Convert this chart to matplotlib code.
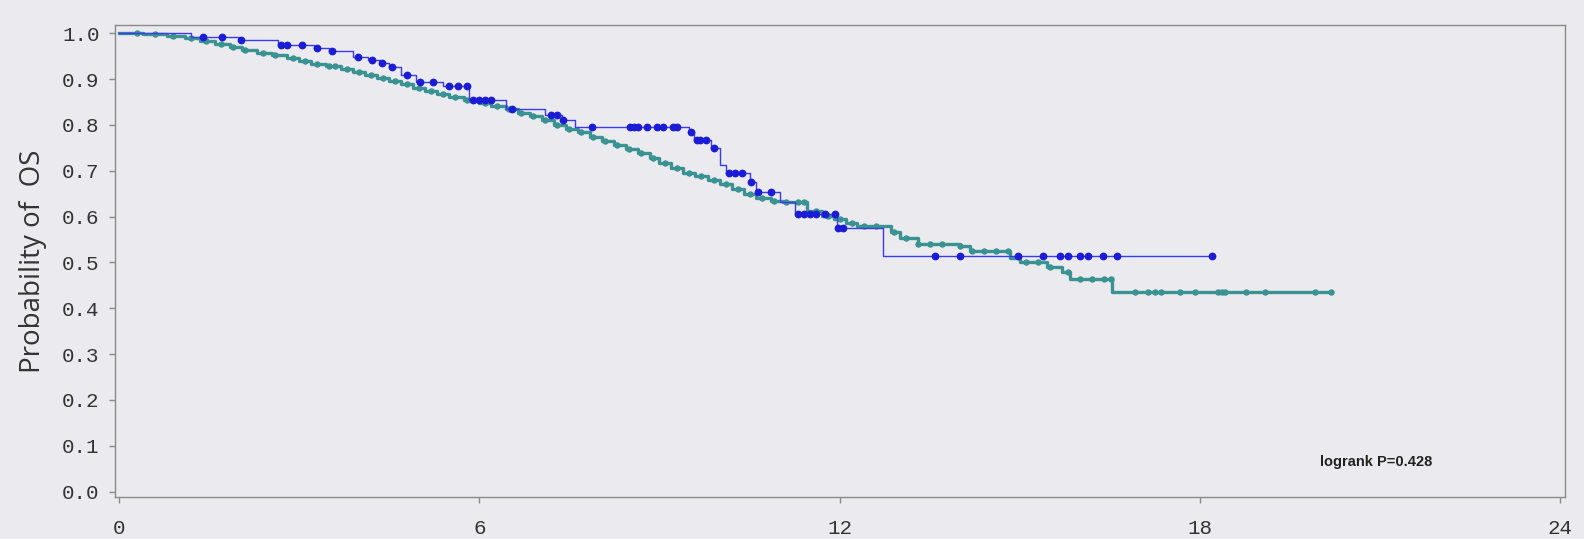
import numpy as np
import matplotlib
matplotlib.use("Agg")
import matplotlib.pyplot as plt

# ---- data ----
# Blue group: step times and survival level after each step
blue_t = [0, 1.2, 2.0, 2.65, 3.25, 3.5, 3.9, 4.15, 4.35, 4.5, 4.7, 4.95, 5.4, 5.83,
          6.45, 7.1, 7.38, 7.6, 9.5, 9.57, 9.85, 10.0, 10.1, 10.5, 10.6, 11.0,
          11.25, 11.95, 12.72]
blue_s = [1.0, 0.992, 0.985, 0.975, 0.968, 0.961, 0.949, 0.942, 0.935, 0.927, 0.909,
          0.894, 0.885, 0.854, 0.835, 0.822, 0.810, 0.796, 0.785, 0.767, 0.750, 0.713,
          0.696, 0.676, 0.654, 0.632, 0.606, 0.576, 0.513]
blue_end = 18.2
blue_cens = [1.40, 1.72, 2.03, 2.7, 2.8, 3.05, 3.3, 3.55, 3.98, 4.21, 4.38, 4.55, 4.8,
             5.01, 5.23, 5.5, 5.65, 5.8, 5.9, 6.0, 6.1, 6.2, 6.55, 7.2, 7.3, 7.4, 7.88,
             8.51, 8.58, 8.65, 8.79, 8.96, 9.06, 9.23, 9.3, 9.53, 9.62, 9.68, 9.78,
             9.9, 10.15, 10.25, 10.38, 10.53, 10.64, 10.85, 11.3, 11.4, 11.5, 11.6,
             11.75, 11.93, 11.98, 12.05, 13.59, 14.01, 14.97, 15.39, 15.67, 15.81,
             16.01, 16.14, 16.39, 16.62, 18.2]

# Teal group
teal_t = [0, 0.4, 0.8, 1.1, 1.35, 1.6, 1.85, 2.05, 2.3, 2.55, 2.8, 3.0, 3.2, 3.45,
          3.7, 3.9, 4.1, 4.3, 4.5, 4.7, 4.9, 5.1, 5.3, 5.5, 5.75, 6.0, 6.2, 6.45,
          6.65, 6.85, 7.05, 7.25, 7.45, 7.65, 7.85, 8.05, 8.25, 8.45, 8.65, 8.85,
          9.0, 9.2, 9.4, 9.6, 9.8, 10.0, 10.2, 10.4, 10.6, 10.85, 11.06, 11.46,
          11.7, 11.9, 12.1, 12.29, 12.85, 13.0, 13.3, 14.0, 14.17, 14.84, 15.0,
          15.45, 15.7, 15.84, 16.54]
teal_s = [1.000, 0.998, 0.994, 0.990, 0.983, 0.976, 0.970, 0.963, 0.958, 0.952, 0.946,
          0.940, 0.934, 0.928, 0.921, 0.915, 0.909, 0.902, 0.896, 0.889, 0.881, 0.874,
          0.867, 0.861, 0.854, 0.848, 0.842, 0.834, 0.827, 0.819, 0.810, 0.800, 0.792,
          0.784, 0.773, 0.765, 0.757, 0.748, 0.738, 0.727, 0.716, 0.705, 0.696, 0.688,
          0.680, 0.672, 0.661, 0.649, 0.640, 0.634, 0.632, 0.612, 0.602, 0.594, 0.586,
          0.580, 0.566, 0.553, 0.540, 0.535, 0.525, 0.510, 0.501, 0.491, 0.479, 0.463,
          0.436]
teal_end = 20.2
teal_cens = [0.3, 0.6, 0.9, 1.2, 1.45, 1.7, 1.9, 2.1, 2.4, 2.6, 2.9, 3.1, 3.3, 3.5,
             3.6, 3.8, 4.0, 4.2, 4.4, 4.6, 4.8, 5.0, 5.2, 5.4, 5.6, 5.8, 5.9, 6.1, 6.3,
             6.5, 6.7, 6.9, 7.1, 7.3, 7.5, 7.7, 7.9, 8.1, 8.3, 8.5, 8.7, 8.9, 9.1, 9.3,
             9.5, 9.7, 9.9, 10.1, 10.3, 10.5, 10.7, 10.9, 11.1, 11.3, 11.4, 11.6, 11.8,
             12.0, 12.2, 12.4, 12.6, 12.9, 13.1, 13.3, 13.5, 13.7, 14.0, 14.2, 14.4,
             14.6, 14.8, 15.1, 15.3, 15.5, 15.8, 16.0, 16.2, 16.4, 16.52, 16.92, 17.14,
             17.25, 17.35, 17.67, 17.92, 18.3, 18.36, 18.42, 18.77, 19.08, 19.92,
             20.18]

x_ticks = [0, 6, 12, 18, 24]
y_ticks = [0.0, 0.1, 0.2, 0.3, 0.4, 0.5, 0.6, 0.7, 0.8, 0.9, 1.0]
y_label = "Probability of  OS"
p_text = "logrank P=0.428"

BG = "#ebeaee"
BLUE_LINE = "#3a3af0"
BLUE_MK = "#1c1cd6"
TEAL = "#3a9292"


def surv_at(ts, ss, times):
    idx = np.searchsorted(np.asarray(ts), np.asarray(times), side="right") - 1
    return np.asarray(ss)[idx]


fig = plt.figure(figsize=(15.84, 5.39), dpi=100, facecolor=BG)
ax = fig.add_axes([115 / 1584, 1 - 496.7 / 539, (1565 - 115) / 1584, (496.7 - 25) / 539])
ax.set_facecolor(BG)

# teal curve
tx = list(teal_t) + [teal_end]
ty = list(teal_s) + [teal_s[-1]]
ax.step(tx, ty, where="post", color=TEAL, lw=2.4, zorder=2)
ax.plot(teal_cens, surv_at(teal_t, teal_s, teal_cens), "o", color=TEAL, ms=3.6,
        mec=TEAL, zorder=3)

# blue curve
bx = list(blue_t) + [blue_end]
by = list(blue_s) + [blue_s[-1]]
ax.step(bx, by, where="post", color=BLUE_LINE, lw=1.0, zorder=4)
ax.plot(blue_cens, surv_at(blue_t, blue_s, blue_cens), "o", color=BLUE_MK, ms=4.6,
        mec=BLUE_MK, zorder=5)

ax.set_xlim(-0.067, 24.08)
ax.set_ylim(-0.011, 1.018)
ax.set_xticks(x_ticks)
ax.set_xticklabels([str(v) for v in x_ticks])
ax.set_yticks(y_ticks)
ax.set_yticklabels([f"{v:.1f}" for v in y_ticks])

for sp in ax.spines.values():
    sp.set_color("#8a8a8a")
    sp.set_linewidth(1.0)
ax.tick_params(axis="both", direction="out", length=4, width=1, color="#8a8a8a",
               labelcolor="#333333")
ax.tick_params(axis="y", pad=7)
ax.tick_params(axis="x", pad=12)
for lab in ax.get_xticklabels() + ax.get_yticklabels():
    lab.set_fontfamily(["Liberation Mono", "DejaVu Sans Mono"])
    lab.set_fontsize(15)

fig.text(33 / 1584, 1 - 261 / 539, y_label, rotation=90, ha="center", va="center",
         fontsize=20, color="#333333", family=["Open Sans", "DejaVu Sans"])

ax.text(20.0, 0.065, p_text, ha="left", va="center", fontsize=10.5, fontweight="bold",
        color="#222222", family=["Liberation Sans Narrow", "Liberation Sans", "DejaVu Sans"])

fig.savefig("out.png", dpi=100, facecolor=BG)
